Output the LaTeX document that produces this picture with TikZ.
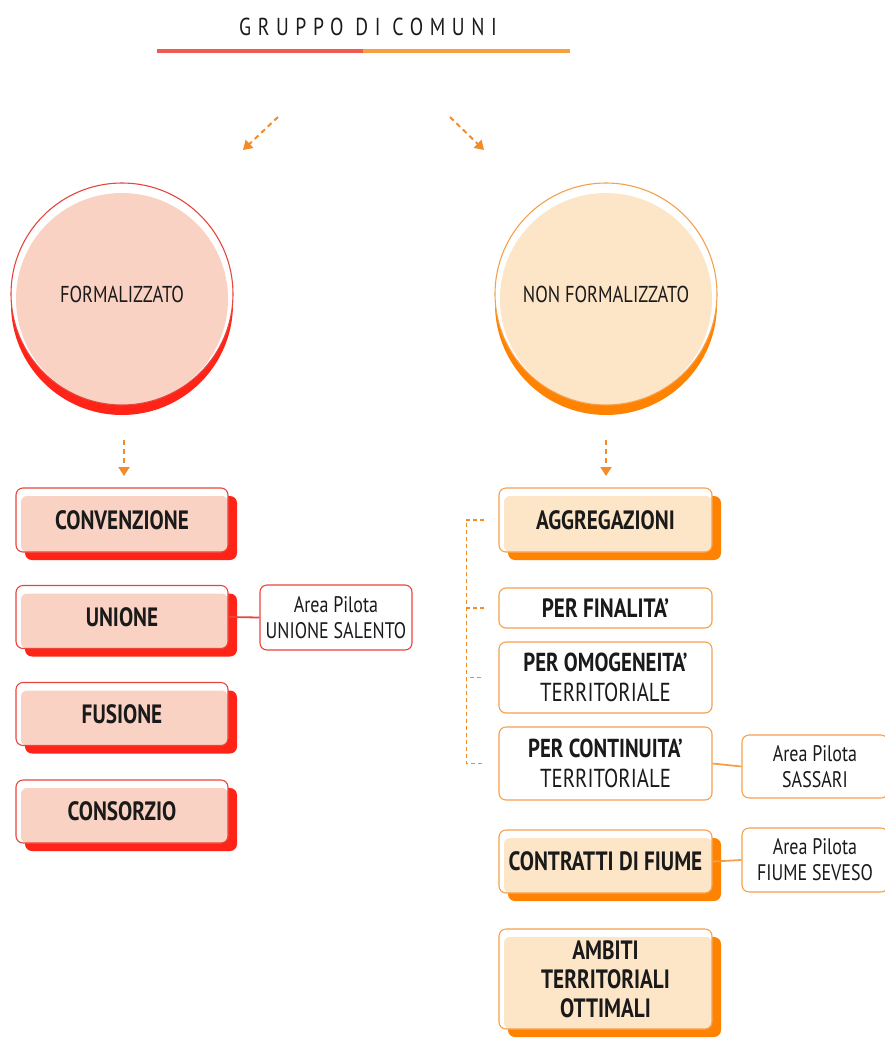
\documentclass[tikz,border=0pt]{standalone}
\usepackage{fontspec}
\setmainfont{PT Sans}[FakeStretch=0.8]
\usetikzlibrary{shadows,arrows.meta,calc}
\definecolor{rline}{HTML}{E8453C}
\definecolor{rdark}{HTML}{FF2318}
\definecolor{rfill}{HTML}{FAD2C3}
\definecolor{oline}{HTML}{F5A04A}
\definecolor{odark}{HTML}{FF8300}
\definecolor{ofill}{HTML}{FDE5C8}
\definecolor{arr}{HTML}{F28C28}
\definecolor{tred}{HTML}{F15A4F}
\definecolor{torange}{HTML}{F7A040}
\definecolor{ink}{HTML}{1A1A1A}
\tikzset{
  every node/.style={text=ink},
  shbox/.style={rounded corners=7pt, minimum width=213pt, draw=#1line, line width=1.1pt, fill=white,
    font=\fontsize{26.5}{29}\selectfont\bfseries, align=center, inner sep=0pt,
    copy shadow={shadow xshift=9pt, shadow yshift=-8pt, fill=#1dark, draw=none},
    path picture={\fill[#1fill, rounded corners=6pt] ([xshift=5pt,yshift=-8pt]path picture bounding box.north west) rectangle (path picture bounding box.south east);}},
  wbox/.style={rounded corners=7pt, draw=#1line, line width=1.1pt, fill=white, align=center, inner sep=0pt},
  circ/.style={circle, minimum size=222pt, inner sep=0pt, draw=#1line, line width=1.1pt, fill=white,
    font=\fontsize{23}{25}\selectfont,
    copy shadow={shadow xshift=0pt, shadow yshift=-10pt, fill=#1dark, draw=none},
    path picture={\fill[#1fill] ([yshift=-5pt]path picture bounding box.center) circle (106pt);}},
  darr/.style={draw=arr, line width=2pt, dash pattern=on 5pt off 4pt, -{Triangle[length=9pt,width=11pt]}},
  brk/.style={draw=arr, line width=1.2pt, dash pattern=on 4pt off 3pt},
  link/.style={line width=1.8pt},
  apfont/.style={font=\fontsize{22.5}{26}\selectfont},
  twofont/.style={font=\fontsize{26}{30}\selectfont}
}
\begin{document}
\begin{tikzpicture}[x=1pt,y=-1pt]
\useasboundingbox (0,0) rectangle (885,1039);
% title
\node (title) at (368,27) {\fontsize{24.5}{26}\selectfont\addfontfeature{LetterSpace=27}GRUPPO DI COMUNI};
\coordinate (l1) at (157,51); \coordinate (l2) at (363,51); \coordinate (l3) at (570,51);
\draw[tred, line width=4.5pt] (l1) -- (l2);
\draw[torange, line width=4.5pt] (l2) -- (l3);
% top arrows
\coordinate (a1s) at (278,117); \coordinate (a1e) at (243,150);
\coordinate (a2s) at (450,117); \coordinate (a2e) at (484,150);
\draw[darr] (a1s) -- (a1e);
\draw[darr] (a2s) -- (a2e);
% circles
\node[circ=r] (form) at (122,294) {\raisebox{-4pt}{FORMALIZZATO}};
\node[circ=o] (nform) at (606,294) {\raisebox{-4pt}{NON FORMALIZZATO}};
% vertical arrows
\coordinate (v1s) at (124,440); \coordinate (v1e) at (124,476);
\coordinate (v2s) at (606,440); \coordinate (v2e) at (606,476);
\draw[darr] (v1s) -- (v1e);
\draw[darr] (v2s) -- (v2e);
% left boxes
\node[shbox=r, minimum height=64pt, minimum width=212pt] (conv) at (122,520) {CONVENZIONE};
\node[shbox=r, minimum height=63pt, minimum width=212pt] (unione) at (122,617) {UNIONE};
\node[shbox=r, minimum height=63pt, minimum width=212pt] (fusione) at (122,714) {FUSIONE};
\node[shbox=r, minimum height=63pt, minimum width=212pt] (consorzio) at (122,811.5) {CONSORZIO};
\node[wbox=r, minimum width=152pt, minimum height=65pt, apfont] (ap1) at (336,617.5) {Area Pilota\\UNIONE SALENTO};
\draw[link, rline] (unione.east) -- (ap1.west);
% right boxes
\node[shbox=o, minimum height=64pt] (agg) at (605.5,520) {AGGREGAZIONI};
\node[wbox=o, minimum width=213pt, minimum height=40pt, font=\fontsize{26.5}{29}\selectfont\bfseries] (fin) at (605.5,608) {PER FINALITA'};
\node[wbox=o, minimum width=213pt, minimum height=71pt, twofont] (omo) at (605.5,677.5) {\bfseries PER OMOGENEITA'\\TERRITORIALE};
\node[wbox=o, minimum width=213pt, minimum height=73pt, twofont] (cont) at (605.5,763.5) {\bfseries PER CONTINUITA'\\TERRITORIALE};
\node[shbox=o, minimum height=63pt] (fiume) at (605.5,861.5) {CONTRATTI DI FIUME};
\node[shbox=o, minimum height=100pt] (ato) at (605.5,979) {AMBITI\\TERRITORIALI\\OTTIMALI};
\node[wbox=o, minimum width=146pt, minimum height=63pt, apfont] (ap2) at (815,766.5) {Area Pilota\\SASSARI};
\node[wbox=o, minimum width=146pt, minimum height=64pt, apfont] (ap3) at (815,860) {Area Pilota\\FIUME SEVESO};
\draw[link, oline] (cont.east) -- (ap2.west);
\draw[link, oline] (fiume.east) -- (ap3.west);
% dashed bracket
\coordinate (bk1) at ([xshift=-14pt]agg.west);
\coordinate (bk2) at ([xshift=-14pt]fin.west);
\coordinate (bk3) at ([xshift=-17pt]omo.west);
\coordinate (bk4) at ([xshift=-14pt]cont.west);
\draw[brk] (bk1) -- ++(-18,0) coordinate (bkt) |- (bk4);
\draw[brk] (bk2) -- (bkt |- bk2);
\draw[brk] (bk3) -- (bkt |- bk3);
\end{tikzpicture}
\end{document}
